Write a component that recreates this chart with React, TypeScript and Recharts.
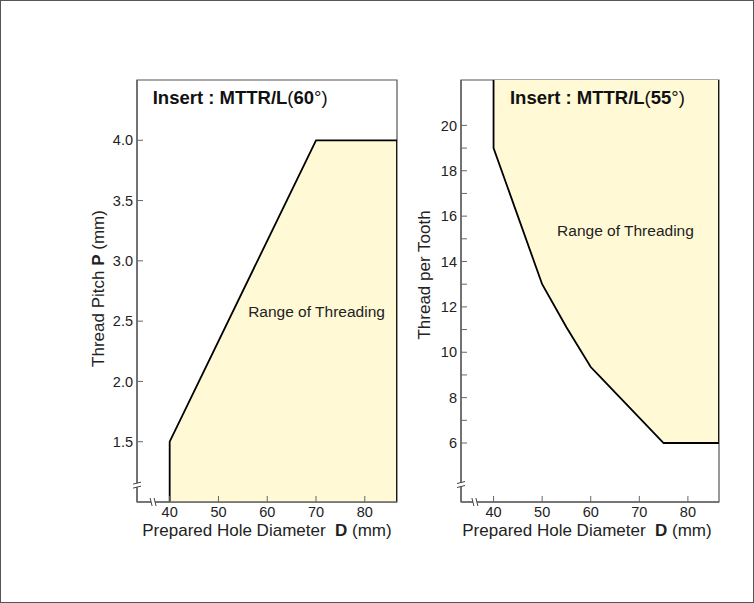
import React from 'react';
import { ComposedChart, Area, XAxis, YAxis, ReferenceArea, ReferenceDot } from 'recharts';

const FONT = "Arial, 'Liberation Sans', Helvetica, sans-serif";
const TEXT = '#222';
const AXIS = '#666';
const FILL = '#FFF9D6';

// shared x axis
const diameterTicks = [40, 50, 60, 70, 80];

// left chart: Insert MTTR/L (60°)
const pitchDomainX = [33.3, 86.6];
const pitchDomainY = [1.0, 4.5];
const pitchTicks = [1.5, 2.0, 2.5, 3.0, 3.5, 4.0];
const pitchDiameter = [40, 40, 70, 86.6, 86.6];
const pitchValues = [1.0, 1.5, 4.0, 4.0, 1.0];

// right chart: Insert MTTR/L (55°)
const tpiDomainX = [33.3, 86.4];
const tpiDomainY = [3.4, 22];
const tpiTicks = [6, 7, 8, 9, 10, 11, 12, 13, 14, 15, 16, 17, 18, 19, 20];
const tpiDiameter = [40, 40, 50, 55, 60, 62, 75, 86.4, 86.4];
const tpiValues = [22, 19, 13, 11.1, 9.35, 8.9, 6, 6, 22];

const pitchData = pitchDiameter.map((x, i) => ({ x, y: pitchValues[i] }));
const tpiData = tpiDiameter.map((x, i) => ({ x, y: tpiValues[i] }));

const XLabel = (props: any) => {
  const vb = props.viewBox || {};
  const cx = vb.x + vb.width / 2 + (props.shift || 0);
  const cy = vb.y + 34;
  return (
    <text x={cx} y={cy} textAnchor="middle" fontSize={17} fill={TEXT} fontFamily={FONT}>
      Prepared Hole Diameter{'\u00a0\u00a0'}<tspan fontWeight="bold">D</tspan> (mm)
    </text>
  );
};

const YLabelPitch = (props: any) => {
  const vb = props.viewBox || {};
  const cx = vb.x + 17;
  const cy = vb.y + vb.height / 2 - 2.5;
  return (
    <text x={cx} y={cy} transform={`rotate(-90 ${cx} ${cy})`} textAnchor="middle" fontSize={17} fill={TEXT} fontFamily={FONT}>
      Thread Pitch <tspan fontWeight="bold">P</tspan> (mm)
    </text>
  );
};

const YLabelTpi = (props: any) => {
  const vb = props.viewBox || {};
  const cx = vb.x + 19;
  const cy = vb.y + vb.height / 2 - 16;
  return (
    <text x={cx} y={cy} transform={`rotate(-90 ${cx} ${cy})`} textAnchor="middle" fontSize={17} fill={TEXT} fontFamily={FONT}>
      Thread per Tooth
    </text>
  );
};

const titleShape = (angle: string) => (p: any) => (
  <text x={p.cx} y={p.cy} fontSize={18.5} fill="#111" fontFamily={FONT} textAnchor="start">
    <tspan fontWeight="bold">Insert : MTTR/L</tspan>(<tspan fontWeight="bold">{angle}</tspan>°)
  </text>
);

const rangeShape = (p: any) => (
  <text x={p.cx} y={p.cy} fontSize={15.5} fill={TEXT} fontFamily={FONT} textAnchor="middle">
    Range of Threading
  </text>
);

const yBreakShape = (p: any) => (
  <g>
    <rect x={p.cx - 4} y={p.cy - 2} width={8} height={4} fill="#fff" />
    <path d={`M${p.cx - 4},${p.cy - 1} L${p.cx + 4},${p.cy - 3} M${p.cx - 4},${p.cy + 3} L${p.cx + 4},${p.cy + 1}`} stroke="#444" strokeWidth={1} fill="none" />
  </g>
);

const xBreakShape = (p: any) => (
  <g>
    <rect x={p.cx - 2} y={p.cy - 4} width={4} height={8} fill="#fff" />
    <path d={`M${p.cx - 3},${p.cy - 4} L${p.cx - 1},${p.cy + 4} M${p.cx + 1},${p.cy - 4} L${p.cx + 3},${p.cy + 4}`} stroke="#444" strokeWidth={1} fill="none" />
  </g>
);

const tickStyle = { fill: TEXT, fontSize: 14.5, fontFamily: FONT };

export default function App() {
  return (
    <div style={{ position: 'absolute', left: 0, top: 0, width: 754, height: 603, background: '#fff' }}>
      <div style={{ position: 'absolute', left: 0, top: 0, width: 754, height: 603, boxSizing: 'border-box', border: '1px solid #555', pointerEvents: 'none' }} />
      <div style={{ position: 'absolute', left: 20, top: 40 }}>
        <ComposedChart width={400} height={530} data={pitchData} margin={{ top: 40, right: 23, bottom: 18, left: 67 }}>
          <XAxis
            type="number"
            dataKey="x"
            domain={pitchDomainX}
            ticks={diameterTicks}
            allowDataOverflow
            tickSize={-6}
            tickMargin={11}
            height={50}
            tick={tickStyle}
            tickLine={{ stroke: AXIS }}
            axisLine={{ stroke: AXIS, strokeWidth: 1.5 }}
            label={<XLabel />}
          />
          <YAxis
            type="number"
            domain={pitchDomainY}
            ticks={pitchTicks}
            allowDataOverflow
            tickFormatter={(v: number) => v.toFixed(1)}
            tickSize={-6}
            tickMargin={10}
            width={50}
            tick={tickStyle}
            tickLine={{ stroke: AXIS }}
            axisLine={{ stroke: AXIS, strokeWidth: 1.5 }}
            label={<YLabelPitch />}
          />
          <ReferenceArea x1={pitchDomainX[0]} x2={pitchDomainX[1]} y1={pitchDomainY[0]} y2={pitchDomainY[1]} fill="none" stroke="#555" strokeWidth={1.2} ifOverflow="visible" />
          <Area type="linear" dataKey="y" stroke="#000" strokeWidth={1.8} fill={FILL} fillOpacity={1} isAnimationActive={false} baseValue={pitchDomainY[0]} dot={false} activeDot={false} />
          <ReferenceDot x={36.52} y={4.301} r={0} ifOverflow="visible" shape={titleShape('60')} />
          <ReferenceDot x={70.1} y={2.534} r={0} ifOverflow="visible" shape={rangeShape} />
          <ReferenceDot x={pitchDomainX[0]} y={1.14} r={0} ifOverflow="visible" shape={yBreakShape} />
          <ReferenceDot x={36.6} y={pitchDomainY[0]} r={0} ifOverflow="visible" shape={xBreakShape} />
        </ComposedChart>
      </div>
      <div style={{ position: 'absolute', left: 400, top: 40 }}>
        <ComposedChart width={345} height={530} data={tpiData} margin={{ top: 40, right: 26, bottom: 18, left: 11 }}>
          <XAxis
            type="number"
            dataKey="x"
            domain={tpiDomainX}
            ticks={diameterTicks}
            allowDataOverflow
            tickSize={-6}
            tickMargin={11}
            height={50}
            tick={tickStyle}
            tickLine={{ stroke: AXIS }}
            axisLine={{ stroke: AXIS, strokeWidth: 1.5 }}
            label={<XLabel shift={-3} />}
          />
          <YAxis
            type="number"
            domain={tpiDomainY}
            ticks={tpiTicks}
            allowDataOverflow
            interval={0}
            tickFormatter={(v: number) => (v % 2 === 0 ? String(v) : '')}
            tickSize={-6}
            tickMargin={10}
            width={50}
            tick={tickStyle}
            tickLine={{ stroke: AXIS }}
            axisLine={{ stroke: AXIS, strokeWidth: 1.5 }}
            label={<YLabelTpi />}
          />
          <ReferenceArea x1={tpiDomainX[0]} x2={tpiDomainX[1]} y1={tpiDomainY[0]} y2={tpiDomainY[1]} fill="none" stroke="#555" strokeWidth={1.2} ifOverflow="visible" />
          <Area type="linear" dataKey="y" stroke="#000" strokeWidth={1.8} fill={FILL} fillOpacity={1} isAnimationActive={false} baseValue={tpiDomainY[1]} dot={false} activeDot={false} />
          <ReferenceDot x={43.38} y={20.94} r={0} ifOverflow="visible" shape={titleShape('55')} />
          <ReferenceDot x={67.15} y={15.12} r={0} ifOverflow="visible" shape={rangeShape} />
          <ReferenceDot x={tpiDomainX[0]} y={4.17} r={0} ifOverflow="visible" shape={yBreakShape} />
          <ReferenceDot x={36.16} y={tpiDomainY[0]} r={0} ifOverflow="visible" shape={xBreakShape} />
        </ComposedChart>
      </div>
    </div>
  );
}
